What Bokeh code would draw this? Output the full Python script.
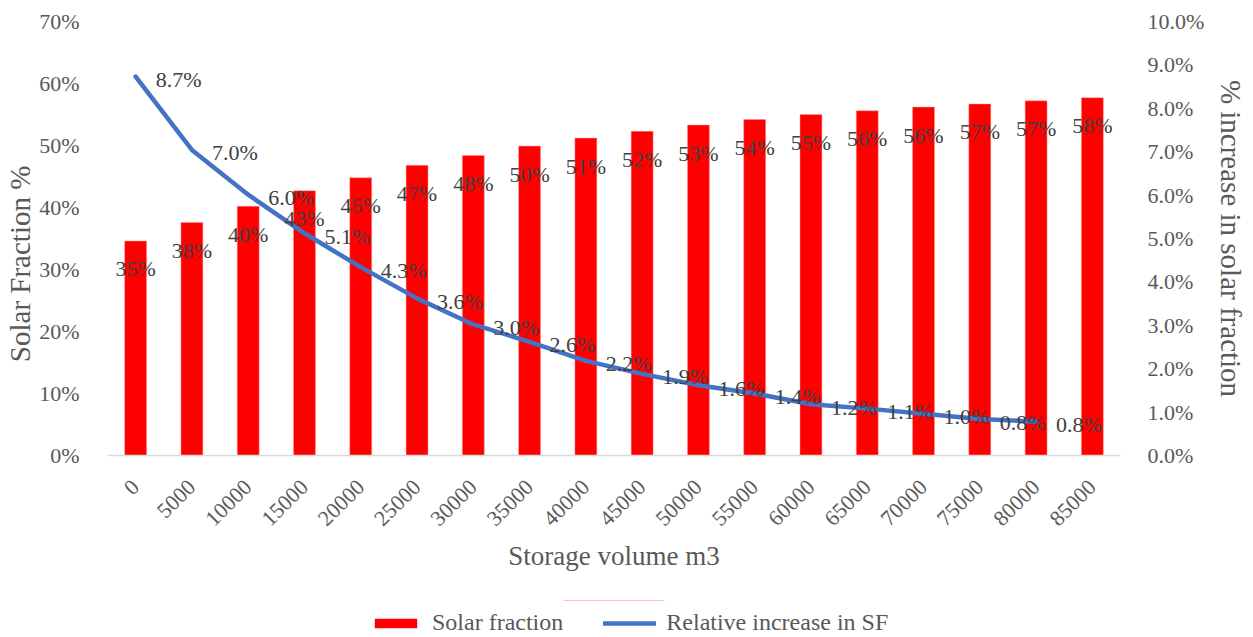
from bokeh.plotting import figure
from bokeh.models import (ColumnDataSource, Range1d, LinearAxis, FactorRange, FixedTicker,
                          NumeralTickFormatter, Legend, LegendItem)
from bokeh.layouts import column
from bokeh.core.properties import value
from bokeh.embed import file_html
from bokeh.resources import INLINE
import math

# ---- data ----
storage_volume = ["0", "5000", "10000", "15000", "20000", "25000", "30000", "35000", "40000",
                  "45000", "50000", "55000", "60000", "65000", "70000", "75000", "80000", "85000"]
solar_fraction = [0.346, 0.376, 0.402, 0.427, 0.448, 0.468, 0.484, 0.499, 0.512,
                  0.523, 0.533, 0.542, 0.550, 0.556, 0.562, 0.567, 0.572, 0.577]
relative_increase = [0.0873, 0.0704, 0.0601, 0.0512, 0.0434, 0.0362, 0.0302, 0.0262, 0.0218,
                     0.0188, 0.0162, 0.0143, 0.0118, 0.0108, 0.0096, 0.0084, 0.0078]
left_ticks = [0, 0.1, 0.2, 0.3, 0.4, 0.5, 0.6, 0.7]
right_ticks = [0, 0.01, 0.02, 0.03, 0.04, 0.05, 0.06, 0.07, 0.08, 0.09, 0.10]
series_names = ["Solar fraction", "Relative increase in SF"]

FONT = "Liberation Serif"
AXIS_COL = "#595959"
LABEL_COL = "#404040"
BAR_COL = "#FF0000"
LINE_COL = "#4472C4"

bar_src = ColumnDataSource(dict(x=storage_volume, y=solar_fraction,
                                lab=[f"{v*100:.0f}%" for v in solar_fraction]))
line_src = ColumnDataSource(dict(x=storage_volume[:len(relative_increase)], y=relative_increase,
                                 lab=[f"{v*100:.1f}%" for v in relative_increase]))

p = figure(width=1253, height=600, output_backend="svg", toolbar_location=None,
           x_range=FactorRange(factors=storage_volume, range_padding=0),
           y_range=Range1d(0, 0.70),
           min_border_left=107, min_border_right=133, min_border_top=21, min_border_bottom=145)
p.extra_y_ranges = {"right": Range1d(0, 0.10)}
p.outline_line_color = None
p.xgrid.visible = False
p.ygrid.visible = False

bars = p.vbar(x="x", top="y", width=0.39, source=bar_src, fill_color=BAR_COL,
              line_color="#FF9999", line_width=0.5)
line = p.line(x="x", y="y", source=line_src, y_range_name="right", line_color=LINE_COL,
              line_width=4.5, line_join="round", line_cap="round")

p.text(x="x", y="y", text="lab", source=bar_src, text_font=value(FONT), text_font_size="22px",
       text_color=LABEL_COL, text_align="center", text_baseline="middle", y_offset=28)
p.text(x="x", y="y", text="lab", source=line_src, y_range_name="right", text_font=value(FONT),
       text_font_size="22px", text_color=LABEL_COL, text_align="left", text_baseline="middle",
       x_offset=20, y_offset=3)

# axes styling
def style_axis(ax):
    ax.major_tick_line_color = None
    ax.minor_tick_line_color = None
    ax.major_label_text_font = FONT
    ax.major_label_text_color = AXIS_COL
    ax.major_label_text_font_size = "22px"
    ax.axis_label_text_font = FONT
    ax.axis_label_text_color = AXIS_COL
    ax.axis_label_text_font_size = "29px"
    ax.axis_label_text_font_style = "normal"

yl = p.yaxis[0]
style_axis(yl)
yl.axis_line_color = None
yl.ticker = FixedTicker(ticks=left_ticks)
yl.formatter = NumeralTickFormatter(format="0%")
yl.axis_label = "Solar Fraction %" + "\u00a0" * 7
yl.major_label_standoff = 22
yl.axis_label_standoff = 0

yr = LinearAxis(y_range_name="right", ticker=FixedTicker(ticks=right_ticks),
                formatter=NumeralTickFormatter(format="0.0%"), axis_label="% increase in solar fraction")
style_axis(yr)
yr.axis_line_color = None
yr.major_label_standoff = 21
yr.axis_label_standoff = 8
p.add_layout(yr, "right")

xa = p.xaxis[0]
style_axis(xa)
xa.axis_line_color = "#D9D9D9"
xa.axis_line_width = 1.5
xa.major_label_orientation = math.pi / 4
xa.major_label_standoff = 22
xa.axis_label = "Storage volume m3"
xa.axis_label_text_font_size = "27px"
xa.axis_label_standoff = 6

# ---- legend strip below the chart ----
lf = figure(width=1253, height=37, output_backend="svg", toolbar_location=None,
            x_range=Range1d(0, 1), y_range=Range1d(0, 1),
            x_axis_location=None, y_axis_location=None,
            min_border_left=0, min_border_right=0, min_border_top=0, min_border_bottom=0)
lf.grid.visible = False
lf.outline_line_color = None
# legend swatch renderers: their data sit above the strip's visible range
lb = lf.vbar(x=[0.5], bottom=[50], top=[60], width=0.1, fill_color=BAR_COL, line_color=None)
ll = lf.line(x=[0.4, 0.6], y=[50, 50], line_color=LINE_COL, line_width=4.5, line_cap="round")
legend = Legend(items=[LegendItem(label=series_names[0], renderers=[lb]),
                       LegendItem(label=series_names[1], renderers=[ll])],
                orientation="horizontal", location=(262, 1), padding=0, margin=0,
                spacing=40, glyph_width=53, glyph_height=12, label_standoff=10,
                label_text_font=FONT, label_text_font_size="24px", label_text_color=AXIS_COL,
                border_line_color=None, background_fill_alpha=0)
lf.add_layout(legend, "center")

layout = column(p, lf, spacing=0)
open("out.html", "w").write(file_html(layout, INLINE))
